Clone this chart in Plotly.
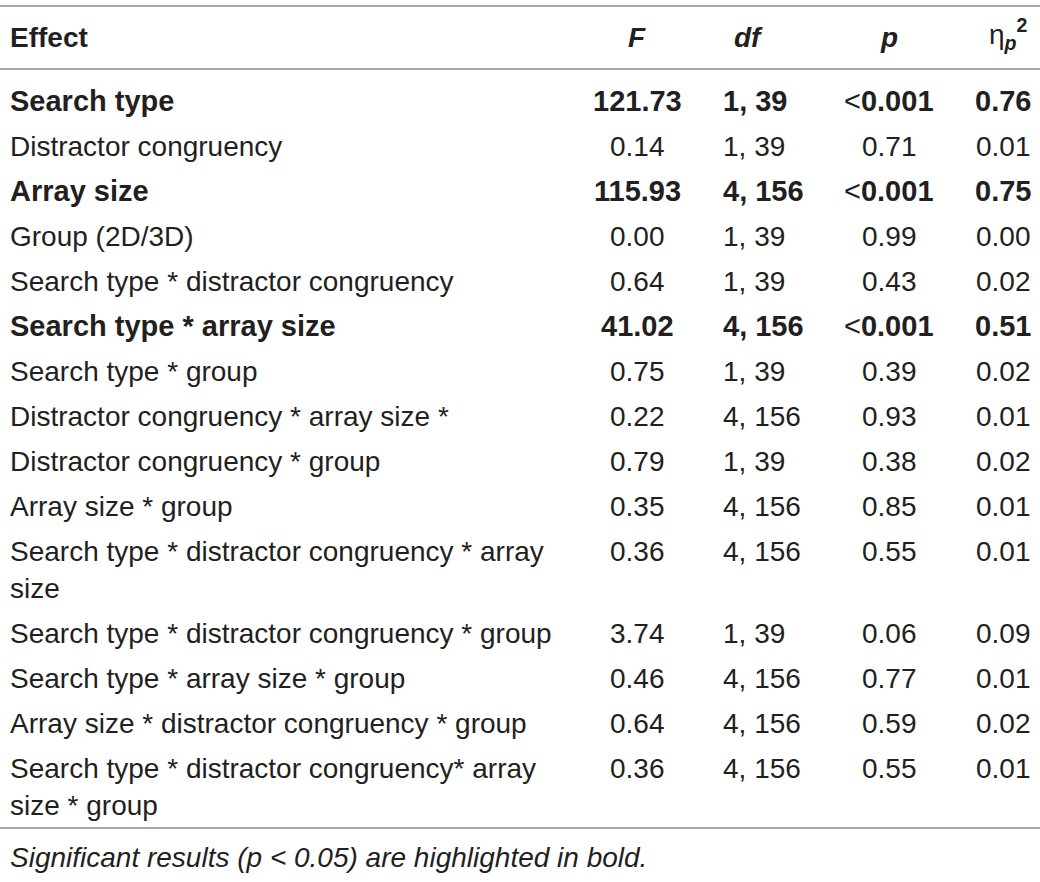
import plotly.graph_objects as go

# table contents (two-line effect names use <br>)
effects = [
    "Search type",
    "Distractor congruency",
    "Array size",
    "Group (2D/3D)",
    "Search type * distractor congruency",
    "Search type * array size",
    "Search type * group",
    "Distractor congruency * array size *",
    "Distractor congruency * group",
    "Array size * group",
    "Search type * distractor congruency * array<br>size",
    "Search type * distractor congruency * group",
    "Search type * array size * group",
    "Array size * distractor congruency * group",
    "Search type * distractor congruency* array<br>size * group",
]
F_values = ["121.73", "0.14", "115.93", "0.00", "0.64", "41.02", "0.75", "0.22",
            "0.79", "0.35", "0.36", "3.74", "0.46", "0.64", "0.36"]
df_values = ["1, 39", "1, 39", "4, 156", "1, 39", "1, 39", "4, 156", "1, 39", "4, 156",
             "1, 39", "4, 156", "4, 156", "1, 39", "4, 156", "4, 156", "4, 156"]
p_values = ["<0.001", "0.71", "<0.001", "0.99", "0.43", "<0.001", "0.39", "0.93",
            "0.38", "0.85", "0.55", "0.06", "0.77", "0.59", "0.55"]
eta_values = ["0.76", "0.01", "0.75", "0.00", "0.02", "0.51", "0.02", "0.01",
              "0.02", "0.01", "0.01", "0.09", "0.01", "0.02", "0.01"]
headers = ["Effect", "<i>F</i>", "<i>df</i>", "<i>p</i>",
           "<span style='font-weight:normal'>η</span><sub><i>p</i></sub><sup>2</sup>"]
footnote = "<i>Significant results (p &lt; 0.05) are highlighted in bold.</i>"

W, H = 1040, 882
FONT = "Liberation Sans, Arial, Helvetica, sans-serif"
TXT = "#231f20"
RULE = "#a7a7a7"
SIZE = 28
BOLD_SIZE = 29

# column anchors: (x, xanchor)
col_effect = (8, "left")
col_F = (637, "center")
col_df = (721, "left")
col_p = (889, "center")
col_eta = (1033, "right")

row_top = 101
row_step = 45
line_step = 37


def is_significant(p):
    if p.startswith("<"):
        return float(p[1:]) <= 0.05
    return float(p) < 0.05


annotations = []


def add(x, y, text, anchor, bold=False, size=None):
    if size is None:
        size = BOLD_SIZE if bold else SIZE
    annotations.append(dict(
        x=x, y=y, xref="x", yref="y", text=text, showarrow=False,
        xanchor=anchor, yanchor="middle",
        font=dict(family=FONT, size=size, color=TXT,
                  weight="bold" if bold else "normal")))


# header
header_y = 37
add(col_effect[0], header_y, headers[0], col_effect[1], bold=True, size=SIZE)
add(col_F[0], header_y, headers[1], "center", bold=True, size=SIZE)
add(748, header_y, headers[2], "center", bold=True, size=SIZE)
add(col_p[0], header_y, headers[3], "center", bold=True, size=SIZE)
add(1030, header_y - 3, headers[4], "right", bold=True, size=SIZE)

# body rows
y = row_top
for eff, F, dfv, p, eta in zip(effects, F_values, df_values, p_values, eta_values):
    bold = is_significant(p)
    lines = eff.split("<br>")
    for k, ln in enumerate(lines):
        add(col_effect[0], y + k * line_step, ln, col_effect[1], bold)
    add(col_F[0], y, F, col_F[1], bold)
    add(col_df[0], y, dfv, col_df[1], bold)
    if p.startswith("<"):
        ptxt = "<span style='font-weight:normal'>&lt;</span>" + p[1:]
    else:
        ptxt = p
    add(col_p[0], y, ptxt, col_p[1], bold)
    add(col_eta[0], y, eta, col_eta[1], bold)
    y += row_step + (len(lines) - 1) * line_step

# rules
rule_y = [6, 69, 828]
shapes = [dict(type="line", xref="x", yref="y", x0=0, x1=W, y0=r, y1=r,
               line=dict(color=RULE, width=2)) for r in rule_y]

add(8, 857, footnote, "left", size=SIZE)

fig = go.Figure()
fig.update_layout(
    width=W, height=H, margin=dict(l=0, r=0, t=0, b=0),
    paper_bgcolor="white", plot_bgcolor="white", showlegend=False,
    xaxis=dict(range=[0, W], visible=False, fixedrange=True),
    yaxis=dict(range=[H, 0], visible=False, fixedrange=True),
    annotations=annotations, shapes=shapes,
)
fig.write_html("out.html", config={"displayModeBar": False},
               post_script="document.body.style.margin='0';"
                           "document.body.style.overflow='hidden';")
